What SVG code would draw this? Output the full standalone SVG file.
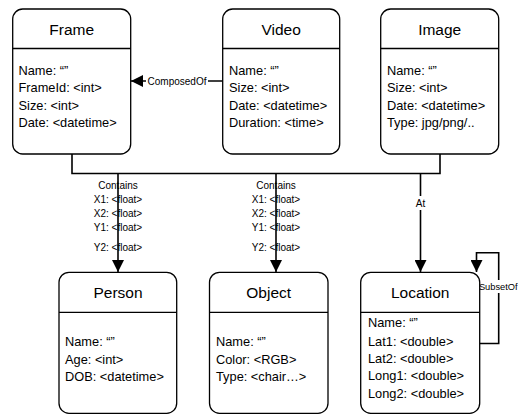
<svg xmlns="http://www.w3.org/2000/svg" width="518" height="415" viewBox="0 0 518 415">
<style>
.box{fill:#fff;stroke:#000;stroke-width:1.3}
.div{stroke:#000;stroke-width:1.3}
.title{font-family:"Liberation Sans",Arial,sans-serif;font-size:15.5px;text-anchor:middle;fill:#000}
.field{font-family:"Liberation Sans",Arial,sans-serif;font-size:12.8px;fill:#000}
.lbl{font-family:"Liberation Sans",Arial,sans-serif;font-size:10px;text-anchor:middle;fill:#000}
.line{fill:none;stroke:#000;stroke-width:1.6}
.bg{fill:#fff}
</style>
<defs>
<marker id="arr" markerUnits="userSpaceOnUse" markerWidth="12" markerHeight="12" viewBox="0 0 10 10" refX="10" refY="5" orient="auto">
<path d="M0,0 L10,5 L0,10 Z" fill="#000"/>
</marker>
</defs>
<rect width="518" height="415" fill="#fff"/>
<g id="connectors">
<path class="line" d="M72,154 V173.5 H440 V154"/>
<path class="line" d="M118,173.5 V272" marker-end="url(#arr)"/>
<path class="line" d="M276,173.5 V272" marker-end="url(#arr)"/>
<path class="line" d="M420.5,173.5 V272" marker-end="url(#arr)"/>
<path class="line" d="M222.7,81 H131" marker-end="url(#arr)"/>
<path class="line" d="M479.7,343.5 H498.7 V252.7 H476.5 V272" marker-end="url(#arr)"/>
<rect class="bg" x="146" y="75" width="62" height="12"/>
<text class="lbl" x="177" y="85">ComposedOf</text>
<text class="lbl" x="118" y="189">Contains</text>
<text class="lbl" x="118" y="203">X1: &lt;float&gt;</text>
<text class="lbl" x="118" y="217">X2: &lt;float&gt;</text>
<text class="lbl" x="118" y="231">Y1: &lt;float&gt;</text>
<text class="lbl" x="118" y="250.5">Y2: &lt;float&gt;</text>
<text class="lbl" x="276" y="189">Contains</text>
<text class="lbl" x="276" y="203">X1: &lt;float&gt;</text>
<text class="lbl" x="276" y="217">X2: &lt;float&gt;</text>
<text class="lbl" x="276" y="231">Y1: &lt;float&gt;</text>
<text class="lbl" x="276" y="250.5">Y2: &lt;float&gt;</text>
<rect class="bg" x="412" y="196" width="17" height="14"/>
<text class="lbl" x="420.5" y="207">At</text>
<rect class="bg" x="480.5" y="280" width="37.5" height="13"/>
<text class="lbl" x="498.3" y="290" style="font-size:9.3px">SubsetOf</text>
</g>
<g id="frame">
<rect class="box" x="12.7" y="9" width="118" height="145" rx="10"/>
<line class="div" x1="12.7" y1="48.5" x2="130.7" y2="48.5"/>
<text class="title" x="71.7" y="34.5">Frame</text>
<text class="field" x="18.5" y="75">Name: “”</text>
<text class="field" x="18.5" y="92.3">FrameId: &lt;int&gt;</text>
<text class="field" x="18.5" y="109.6">Size: &lt;int&gt;</text>
<text class="field" x="18.5" y="127">Date: &lt;datetime&gt;</text>
</g>
<g id="video">
<rect class="box" x="222.7" y="9" width="117" height="145" rx="10"/>
<line class="div" x1="222.7" y1="48.5" x2="339.7" y2="48.5"/>
<text class="title" x="281.2" y="34.5">Video</text>
<text class="field" x="229" y="75">Name: “”</text>
<text class="field" x="229" y="92.3">Size: &lt;int&gt;</text>
<text class="field" x="229" y="109.6">Date: &lt;datetime&gt;</text>
<text class="field" x="229" y="127">Duration: &lt;time&gt;</text>
</g>
<g id="image">
<rect class="box" x="380.7" y="9" width="118" height="145" rx="10"/>
<line class="div" x1="380.7" y1="48.5" x2="498.7" y2="48.5"/>
<text class="title" x="439.7" y="34.5">Image</text>
<text class="field" x="387" y="75">Name: “”</text>
<text class="field" x="387" y="92.3">Size: &lt;int&gt;</text>
<text class="field" x="387" y="109.6">Date: &lt;datetime&gt;</text>
<text class="field" x="387" y="127">Type: jpg/png/..</text>
</g>
<g id="person">
<rect class="box" x="59" y="272.3" width="117.7" height="141" rx="10"/>
<line class="div" x1="59" y1="312.3" x2="176.7" y2="312.3"/>
<text class="title" x="118" y="297.5">Person</text>
<text class="field" x="65" y="346.3">Name: “”</text>
<text class="field" x="65" y="363.5">Age: &lt;int&gt;</text>
<text class="field" x="65" y="380.7">DOB: &lt;datetime&gt;</text>
</g>
<g id="object">
<rect class="box" x="209.5" y="272.3" width="118.5" height="141" rx="10"/>
<line class="div" x1="209.5" y1="312.3" x2="328" y2="312.3"/>
<text class="title" x="268.7" y="297.5">Object</text>
<text class="field" x="216" y="346.3">Name: “”</text>
<text class="field" x="216" y="363.5">Color: &lt;RGB&gt;</text>
<text class="field" x="216" y="380.7">Type: &lt;chair…&gt;</text>
</g>
<g id="location">
<rect class="box" x="360.7" y="272.3" width="119" height="141" rx="10"/>
<line class="div" x1="360.7" y1="312.3" x2="479.7" y2="312.3"/>
<text class="title" x="420.2" y="297.5">Location</text>
<text class="field" x="368" y="327.3">Name: “”</text>
<text class="field" x="368" y="345.6">Lat1: &lt;double&gt;</text>
<text class="field" x="368" y="363">Lat2: &lt;double&gt;</text>
<text class="field" x="368" y="380.3">Long1: &lt;double&gt;</text>
<text class="field" x="368" y="397.6">Long2: &lt;double&gt;</text>
</g>
</svg>
